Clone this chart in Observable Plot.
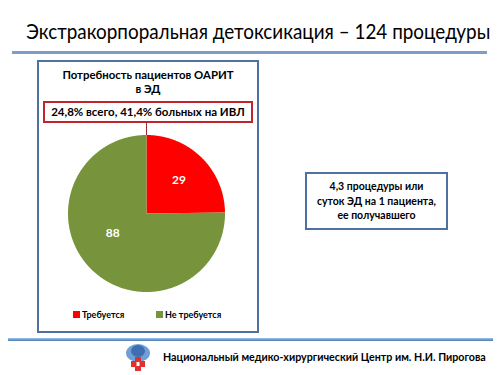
<!DOCTYPE html>
<html><head><meta charset="utf-8">
<script src="https://cdn.jsdelivr.net/npm/d3@7"></script>
<script src="https://cdn.jsdelivr.net/npm/@observablehq/plot@0.6"></script>
<style>
body{margin:0;background:#fff;font-family:Lato,'Noto Sans',sans-serif;color:#000;}
#page{position:relative;width:500px;height:375px;overflow:hidden;background:#fff;}
.abs{position:absolute;}
#title{left:0;top:18px;width:500px;text-align:center;font-size:21px;white-space:nowrap;}
#title span{display:inline-block;transform-origin:50% 50%;}
#rule1{left:12px;top:51px;width:475px;height:3px;background:#7d9dc7;}
#box{left:37px;top:60px;width:218px;height:269px;border:2px solid #4f71a0;}
#ctitle{left:38px;top:68px;width:220px;text-align:center;font-weight:bold;font-size:11.4px;line-height:14px;}
#annot{left:43px;top:101px;width:206px;height:18px;border:2px solid #c0252d;text-align:center;font-weight:bold;font-size:11.5px;line-height:18px;white-space:nowrap;}
#leader{left:146px;top:122px;width:1px;height:13px;background:#a0282d;}
#pie{left:58px;top:125px;}
#legend{left:38px;top:309px;width:220px;font-weight:bold;font-size:9px;}
.li{position:absolute;top:0;white-space:nowrap;line-height:12px;}
.sw{display:inline-block;width:7px;height:7px;margin-right:2px;vertical-align:0px;}
#rbox{left:305px;top:172px;width:139px;height:54px;border:2px solid #4f71a0;text-align:center;font-weight:bold;font-size:10.5px;line-height:14.5px;display:flex;align-items:center;justify-content:center;}
#rule2{left:8px;top:338px;width:485px;height:3px;background:linear-gradient(#9cc3e8,#4a7ab4);}
#footer{left:163px;top:350px;font-weight:bold;font-size:10.7px;white-space:nowrap;}
#logo{left:124px;top:343px;width:28px;height:30px;}
</style></head><body><div id="page">
<div id="title" class="abs"><span></span></div>
<div id="rule1" class="abs"></div>
<div id="box" class="abs"></div>
<div id="ctitle" class="abs"></div>
<div id="annot" class="abs"></div>
<div id="leader" class="abs"></div>
<div id="pie" class="abs"></div>
<div id="legend" class="abs"></div>
<div id="rbox" class="abs"></div>
<div id="rule2" class="abs"></div>
<div id="logo" class="abs"></div>
<div id="footer" class="abs"></div>
</div>
<script>
const slideTitle = "Экстракорпоральная детоксикация – 124 процедуры";
const chartTitle = ["Потребность пациентов ОАРИТ", "в ЭД"];
const annotation = "24,8% всего, 41,4% больных на ИВЛ";
const categories = ["Требуется", "Не требуется"];
const values = [29, 88];
const colors = ["#ff0000", "#77933c"];
const sideNote = ["4,3 процедуры или", "суток ЭД на 1 пациента,", "ее получавшего"];
const footerText = "Национальный медико-хирургический Центр им. Н.И. Пирогова";

const tspan = document.querySelector("#title span");
tspan.textContent = slideTitle;
const tw = tspan.getBoundingClientRect().width;
tspan.style.transform = `scaleX(${Math.min(1, 464 / tw)})`;
document.getElementById("ctitle").innerHTML = chartTitle.join("<br>");
document.getElementById("annot").textContent = annotation;
document.getElementById("rbox").innerHTML = "<div>" + sideNote.join("<br>") + "</div>";
document.getElementById("footer").textContent = footerText;

// legend
const legendX = [35, 118];
const leg = document.getElementById("legend");
categories.forEach((c, i) => {
  const d = document.createElement("div");
  d.className = "li";
  d.style.left = legendX[i] + "px";
  d.innerHTML = `<span class="sw" style="background:${colors[i]}"></span>${c}`;
  leg.appendChild(d);
});

// logo (decoration)
document.getElementById("logo").innerHTML =
  `<svg width="28" height="30" viewBox="0 0 28 30">
    <ellipse cx="14" cy="10" rx="12" ry="9" fill="#6f9fd6"/>
    <ellipse cx="14" cy="8" rx="7" ry="6" fill="#3f6fb0"/>
    <path d="M11 14h6v4h4v6h-4v4h-6v-4h-4v-6h4z" fill="#e23030"/>
    <rect x="12.5" y="19" width="3" height="4" fill="#fff"/>
  </svg>`;

// pie
const R = 78.5;
const arcs = d3.pie().sort(null).value(d => d.v)(categories.map((c, i) => ({c, v: values[i]})));
const pts = [];
arcs.forEach(a => {
  pts.push({c: a.data.c, x: 0, y: 0});
  const n = Math.max(2, Math.ceil((a.endAngle - a.startAngle) / 0.01));
  for (let k = 0; k <= n; k++) {
    const t = a.startAngle + (a.endAngle - a.startAngle) * k / n;
    pts.push({c: a.data.c, x: R * Math.sin(t), y: R * Math.cos(t)});
  }
  pts.push({c: a.data.c, x: 0, y: 0});
});
// label placement (layout): radial factor and angle shift per slice
const labelRadius = [0.59, 0.5];
const labelShift = [0, 0.26];
const labels = arcs.map((a, i) => {
  const m = (a.startAngle + a.endAngle) / 2 + labelShift[i];
  const r = R * labelRadius[i];
  return {c: a.data.c, v: a.data.v, x: r * Math.sin(m), y: r * Math.cos(m)};
});
const S = 88;
const plot = Plot.plot({
  width: 2 * S, height: 2 * S,
  margin: 0,
  x: {domain: [-S, S], axis: null},
  y: {domain: [-S, S], axis: null},
  color: {domain: categories, range: colors},
  style: {fontFamily: "Lato, 'Noto Sans', sans-serif", overflow: "visible"},
  marks: [
    Plot.line(pts, {x: "x", y: "y", z: "c", fill: "c", stroke: "none", curve: "linear"}),
    Plot.text(labels, {x: "x", y: "y", text: d => String(d.v), fill: "white", fontWeight: "bold", fontSize: 12})
  ]
});
document.getElementById("pie").appendChild(plot);
</script>
</body></html>
